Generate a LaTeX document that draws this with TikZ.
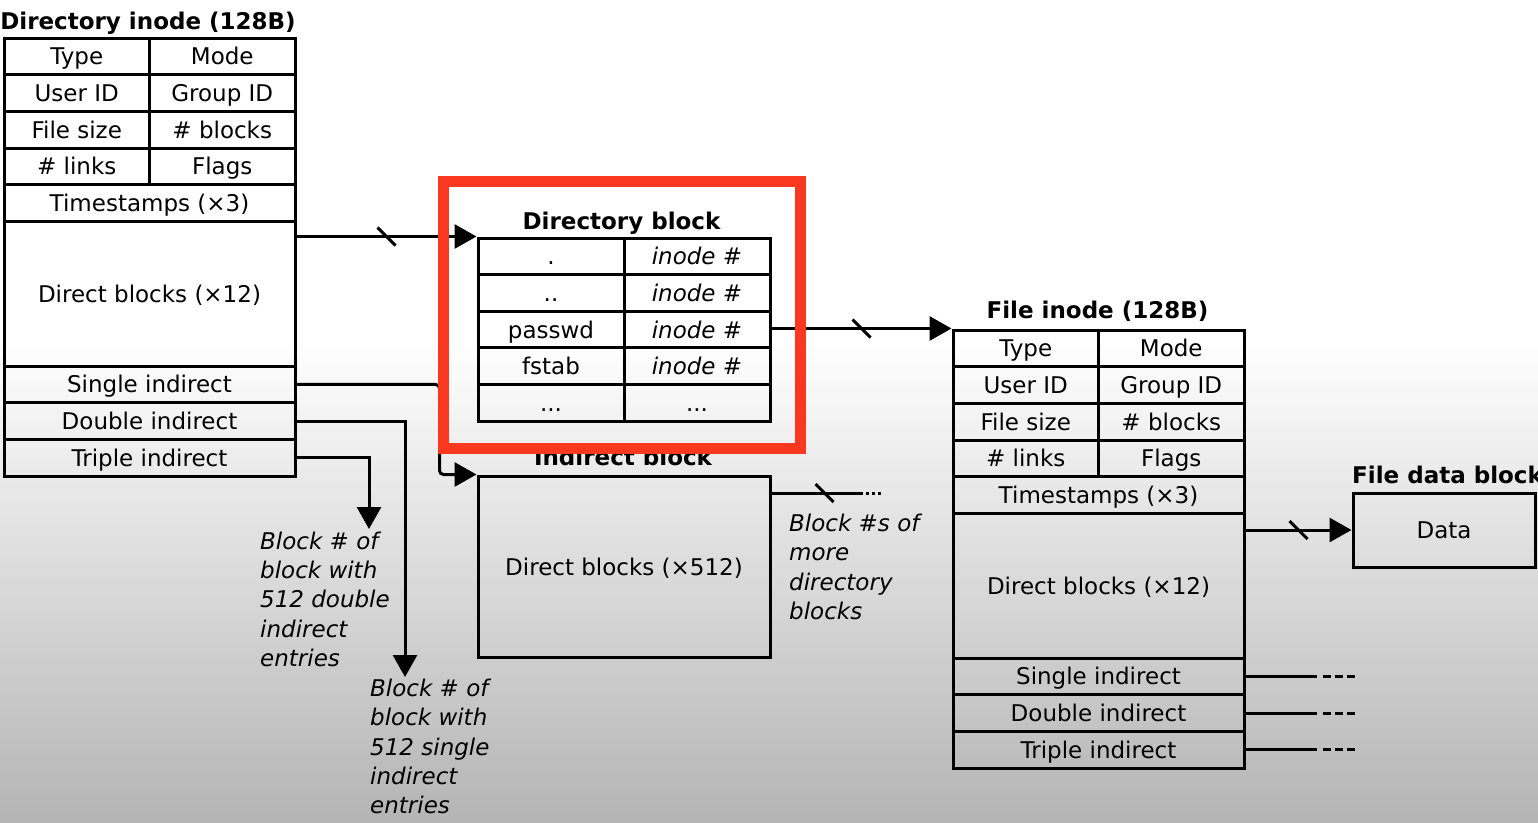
\documentclass[tikz,border=0pt]{standalone}
\usepackage{fontspec}
\setmainfont{DejaVu Sans}
\usetikzlibrary{arrows.meta}

\definecolor{hired}{RGB}{250,56,32}
\definecolor{bgshade}{RGB}{180,180,180}

\begin{document}
\begin{tikzpicture}[x=1pt, y=-1pt,
    font=\fontsize{23}{29.3}\selectfont,
    halfcell/.style={rectangle, draw, line width=3pt, minimum width=145.5pt,
      minimum height=36.7pt, inner sep=0pt, text height=17pt, text depth=0pt},
    widecell/.style={halfcell, minimum width=291pt},
    bigcell/.style={widecell, minimum height=144.6pt},
    dircell/.style={halfcell, minimum width=146pt, minimum height=36.6pt},
    title/.style={font=\fontsize{23}{29.3}\selectfont\bfseries, anchor=base, inner sep=0pt},
    note/.style={font=\fontsize{23}{29.3}\selectfont\itshape, align=left,
      anchor=north west, inner sep=0pt},
    link/.style={line width=3pt, -{Triangle[length=22pt,width=24pt]}},
    wire/.style={line width=3pt},
    cut/.style={line width=3pt},
    more/.style={line width=3pt, dash pattern=on 8pt off 4pt}]

    \useasboundingbox (0,0) rectangle (1538,822);
    \fill[white] (0,0) rectangle (1538,822);
    \shade[top color=white, bottom color=bgshade] (0,340) rectangle (1538,822);

    % directory inode
    \node[title] (di-title) at (148,29) {Directory inode (128B)};
    \node[halfcell] (di-type)  at (76.75,56.35)  {Type};
    \node[halfcell] (di-mode)  at (222.25,56.35) {Mode};
    \node[halfcell] (di-uid)   at (76.75,93.05)  {User ID};
    \node[halfcell] (di-gid)   at (222.25,93.05) {Group ID};
    \node[halfcell] (di-size)  at (76.75,129.75) {File size};
    \node[halfcell] (di-nblk)  at (222.25,129.75) {\# blocks};
    \node[halfcell] (di-links) at (76.75,166.45) {\# links};
    \node[halfcell] (di-flags) at (222.25,166.45) {Flags};
    \node[widecell] (di-time)   at (149.5,203.15) {Timestamps (×3)};
    \node[bigcell]  (di-direct) at (149.5,293.8)  {Direct blocks (×12)};
    \node[widecell] (di-single) at (149.5,384.45) {Single indirect};
    \node[widecell] (di-double) at (149.5,421.15) {Double indirect};
    \node[widecell] (di-triple) at (149.5,457.85) {Triple indirect};

    % directory block
    \node[title] (db-title) at (621.5,229) {Directory block};
    \node[dircell] (db-dot)        at (551,256.3) {.};
    \node[dircell] (db-dot-ino)    at (697,256.3) {\itshape inode \#};
    \node[dircell] (db-dotdot)     at (551,292.9) {..};
    \node[dircell] (db-dotdot-ino) at (697,292.9) {\itshape inode \#};
    \node[dircell] (db-passwd)     at (551,329.5) {passwd};
    \node[dircell] (db-passwd-ino) at (697,329.5) {\itshape inode \#};
    \node[dircell] (db-fstab)      at (551,366.1) {fstab};
    \node[dircell] (db-fstab-ino)  at (697,366.1) {\itshape inode \#};
    \node[dircell] (db-etc)        at (551,402.7) {...};
    \node[dircell] (db-etc-ino)    at (697,402.7) {...};

    % indirect block
    \node[title] (ib-title) at (623,465) {Indirect block};
    \node[halfcell, minimum width=292pt, minimum height=181pt] (ib) at (624,566.5)
      {Direct blocks (×512)};

    % file inode
    \node[title] (fi-title) at (1097.5,318) {File inode (128B)};
    \node[halfcell] (fi-type)  at (1025.75,348.35) {Type};
    \node[halfcell] (fi-mode)  at (1171.25,348.35) {Mode};
    \node[halfcell] (fi-uid)   at (1025.75,385.05) {User ID};
    \node[halfcell] (fi-gid)   at (1171.25,385.05) {Group ID};
    \node[halfcell] (fi-size)  at (1025.75,421.75) {File size};
    \node[halfcell] (fi-nblk)  at (1171.25,421.75) {\# blocks};
    \node[halfcell] (fi-links) at (1025.75,458.45) {\# links};
    \node[halfcell] (fi-flags) at (1171.25,458.45) {Flags};
    \node[widecell] (fi-time)   at (1098.5,495.15) {Timestamps (×3)};
    \node[bigcell]  (fi-direct) at (1098.5,585.8)  {Direct blocks (×12)};
    \node[widecell] (fi-single) at (1098.5,676.45) {Single indirect};
    \node[widecell] (fi-double) at (1098.5,713.15) {Double indirect};
    \node[widecell] (fi-triple) at (1098.5,749.85) {Triple indirect};

    % file data block
    \node[title, anchor=base west] (data-title) at (1352,483) {File data block};
    \node[halfcell, minimum width=182pt, minimum height=74pt] (data) at (1444,530) {Data};

    % notes
    \node[note] (td-note) at (260,531.5) {Block \# of\\block with\\512 double\\indirect\\entries};
    \node[note] (dd-note) at (370,679) {Block \# of\\block with\\512 single\\indirect\\entries};
    \node[note] (ib-note) at (789,514) {Block \#s of\\more\\directory\\blocks};

    \coordinate (td-tip) at (369,529);
    \coordinate (dd-tip) at (405,677);
    \coordinate (ib-more) at (860,493);

    % connectors
    \draw[link] (di-direct.east |- db-dot.north west) -- coordinate[pos=0.5] (cut1) (db-dot.north west);
    \draw[cut] ([shift={(-9,-9)}]cut1) -- ([shift={(9,9)}]cut1);

    \draw[link, rounded corners=4pt] (di-single.east) -| ([xshift=-37pt]ib.north west) -- (ib.north west);
    \draw[link] (di-double.east) -| (dd-tip);
    \draw[link] (di-triple.east) -| (td-tip);

    \draw[link] (db-passwd-ino.east |- fi-type.north west) -- coordinate[pos=0.5] (cut2) (fi-type.north west);
    \draw[cut] ([shift={(-9,-9)}]cut2) -- ([shift={(9,9)}]cut2);

    \draw[wire] (ib.east |- ib-more) -- coordinate[pos=0.6] (cut3) (ib-more);
    \draw[cut] ([shift={(-9,-9)}]cut3) -- ([shift={(9,9)}]cut3);
    \draw[wire, dash pattern=on 3pt off 3pt] (ib-more) -- ++(21,0);

    \draw[link] (fi-direct.east |- data.west) -- coordinate[pos=0.5] (cut4) (data.west);
    \draw[cut] ([shift={(-9,-9)}]cut4) -- ([shift={(9,9)}]cut4);

    \draw[wire] (fi-single.east) -- ++(71,0) coordinate (fs-more);
    \draw[more] ([xshift=6pt]fs-more) -- ++(32,0);
    \draw[wire] (fi-double.east) -- ++(71,0) coordinate (fd-more);
    \draw[more] ([xshift=6pt]fd-more) -- ++(32,0);
    \draw[wire] (fi-triple.east) -- ++(71,0) coordinate (ft-more);
    \draw[more] ([xshift=6pt]ft-more) -- ++(32,0);

    % highlight
    \node[draw=hired, line width=11pt, minimum width=356.5pt, minimum height=267pt,
      inner sep=0pt] (focus) at (621.75,314.5) {};

  \end{tikzpicture}
\end{document}
